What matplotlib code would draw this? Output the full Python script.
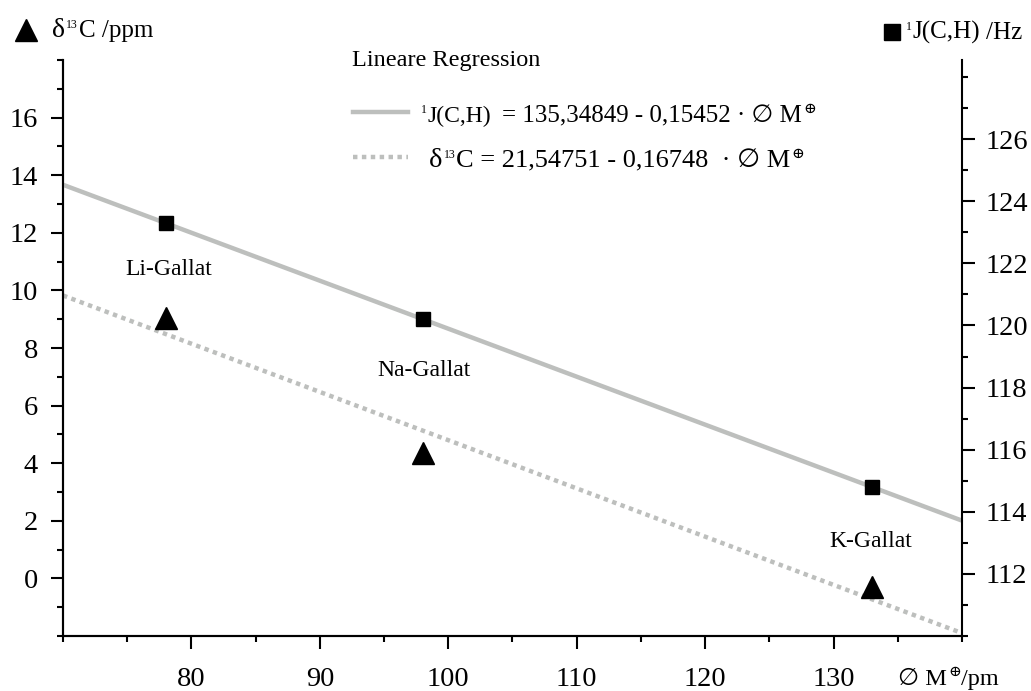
import matplotlib
matplotlib.use('Agg')
import numpy as np
import matplotlib.pyplot as plt
from matplotlib.lines import Line2D
from matplotlib.transforms import IdentityTransform
from matplotlib.ticker import MultipleLocator

FONTS = ['Liberation Serif', 'DejaVu Serif', 'DejaVu Sans']
plt.rcParams['font.family'] = FONTS

# ionic radius of M+ in pm
radius = [78, 98, 133]
salt_names = ['Li-Gallat', 'Na-Gallat', 'K-Gallat']
j_ch = [123.3, 120.2, 114.8]       # 1J(C,H) /Hz
delta_c = [9.05, 4.35, -0.3]       # delta 13C /ppm

# regression lines  y = a - b * r
j_fit = (135.34849, 0.15452)
d_fit = (21.54751, 0.16748)
fit_range = [70, 140]

# where the salt names sit (data coords of the left axis)
name_x = [78.2, 98.1, 132.9]
name_y = [10.55, 7.03, 1.08]

LINE_GREY = '#bdbfbd'
W, H = 1031, 691


def rich_text(fig, x, y, parts, renderer):
	''' draws text pieces left to right; x, y are pixels from the top left '''
	for s, size, rise, gap in parts:
		t = fig.text(x, H - y + rise, s, fontsize=size, ha='left',
		             va='baseline', transform=IdentityTransform())
		x += t.get_window_extent(renderer).width + gap
	return x


def key_marker(fig, x, y, marker, size):
	''' little marker in front of an axis title, pixels from the top left '''
	fig.add_artist(Line2D([x], [H - y], marker=marker, ms=size, color='black',
	                      ls='none', transform=IdentityTransform()))


fig = plt.figure(figsize=(W / 100, H / 100), dpi=100)
ax = fig.add_axes([63 / W, 1 - 636 / H, (962 - 63) / W, (636 - 60) / H])
ax2 = ax.twinx()

fx = np.array(fit_range, dtype=float)
ax.plot(fx, d_fit[0] - d_fit[1] * fx, color=LINE_GREY, lw=3.2,
        ls=(0, (1, 1)), solid_capstyle='butt', dash_capstyle='butt', zorder=1)
ax2.plot(fx, j_fit[0] - j_fit[1] * fx, color=LINE_GREY, lw=3.2, zorder=1)
ax.plot(radius, delta_c, ls='none', marker='^', ms=16, color='black', zorder=3)
ax2.plot(radius, j_ch, ls='none', marker='s', ms=10, color='black', zorder=3)

for name, x, y in zip(salt_names, name_x, name_y):
	ax.text(x, y, name, fontsize=17, ha='center', va='baseline')

ax.set_xlim(70, 140)
ax.set_ylim(-2, 18)
ax2.set_ylim(110, 128.55)

ax.xaxis.set_minor_locator(MultipleLocator(5))
ax.yaxis.set_minor_locator(MultipleLocator(1))
ax2.yaxis.set_minor_locator(MultipleLocator(1))
ax.set_xticks([80, 90, 100, 110, 120, 130])
ax.set_yticks(range(0, 17, 2))
ax2.set_yticks(range(112, 127, 2))

for a in (ax, ax2):
	a.spines['top'].set_visible(False)
	for s in a.spines.values():
		s.set_linewidth(1.5)
	a.tick_params(which='major', length=9, width=1.5, labelsize=20.5)
	a.tick_params(which='minor', length=4.5, width=1.5)
ax.tick_params(axis='x', pad=13)
ax.tick_params(axis='y', pad=9)
ax2.tick_params(axis='y', pad=8)
ax.spines['right'].set_visible(False)

# legend keys
ax.add_line(Line2D([0.3226, 0.3838], [0.9102, 0.9102], transform=ax.transAxes,
                   color=LINE_GREY, lw=3.2, clip_on=False))
ax.add_line(Line2D([0.3226, 0.3838], [0.8316, 0.8316], transform=ax.transAxes,
                   color=LINE_GREY, lw=3.2, ls=(0, (1, 1)), clip_on=False))

r = fig.canvas.get_renderer()
key_marker(fig, 26, 30, '^', 16)
rich_text(fig, 52, 37, [('δ', 20, 0, 1), ('13', 8.5, 9, 1),
                        ('C /ppm', 18, 0, 0)], r)
key_marker(fig, 892, 32, 's', 11.5)
rich_text(fig, 906, 39, [('1', 8.5, 9, 1), ('J(C,H)', 18, 0, 6),
                         ('/Hz', 18, 0, 0)], r)
rich_text(fig, 352, 66, [('Lineare Regression', 17.5, 0, 0)], r)
rich_text(fig, 421, 122, [('1', 8.5, 9, 1), ('J(C,H)', 17, 0, 11),
                          ('= 135,34849 - 0,15452 · ∅ M', 18, 0, 1),
                          ('⊕', 11, 9, 0)], r)
rich_text(fig, 429, 167, [('δ', 20.5, 0, 1), ('13', 8.5, 9, 1),
                          ('C = 21,54751 - 0,16748  · ∅ M', 19, 0, 1),
                          ('⊕', 11, 9, 0)], r)
rich_text(fig, 898, 685, [('∅ M', 17.5, 0, 1), ('⊕', 11, 9, 0),
                          ('/pm', 17.5, 0, 0)], r)

fig.savefig('out.png', dpi=100)
